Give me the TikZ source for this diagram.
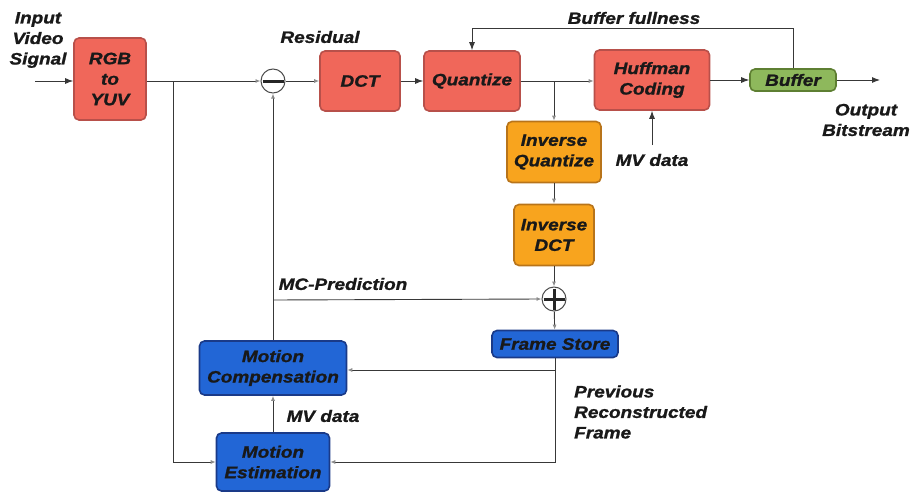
\documentclass[tikz,border=0pt]{standalone}
\usepackage{fontspec}
\setmainfont{Liberation Sans}[FakeStretch=1.15, FakeBold=1.2]
\usetikzlibrary{arrows.meta}
\definecolor{redfill}{HTML}{F0675A}
\definecolor{redline}{HTML}{B8504A}
\definecolor{orfill}{HTML}{F8A41E}
\definecolor{orline}{HTML}{B8741A}
\definecolor{bluefill}{HTML}{2266D6}
\definecolor{blueline}{HTML}{1A3A88}
\definecolor{grfill}{HTML}{8EB85C}
\definecolor{grline}{HTML}{5E7F32}
\definecolor{wire}{HTML}{383838}
\tikzset{
  lbl/.style={font=\fontsize{16.5}{20.5}\selectfont\bfseries\itshape, text=black!90, align=center, inner sep=0pt},
  blk/.style={lbl, draw, line width=1.6pt, rounded corners=5pt, inner sep=0pt},
  redblk/.style={blk, fill=redfill, draw=redline},
  orblk/.style={blk, fill=orfill, draw=orline},
  blueblk/.style={blk, fill=bluefill, draw=blueline},
  grblk/.style={blk, fill=grfill, draw=grline},
  wireline/.style={draw=wire, line width=0.9pt},
  strong/.style={wireline, -{Latex[length=8pt,width=6pt]}},
  faint/.style={wireline, -{Latex[length=5pt,width=4pt,color=black!45]}},
  junction/.style={circle, draw=black!70, line width=1pt, minimum size=24pt, inner sep=0pt, fill=white},
}
\begin{document}
\begin{tikzpicture}[x=1pt,y=-1pt]
\useasboundingbox (0,0) rectangle (912,495);

% processing blocks
\node[redblk, minimum width=72pt, minimum height=82pt] (rgb) at (110,79) {RGB\\to\\YUV};
\node[redblk, minimum width=80pt, minimum height=60pt] (dct) at (360,81) {DCT};
\node[redblk, minimum width=96pt, minimum height=60pt] (quant) at (472,81) {Quantize};
\node[redblk, minimum width=115pt, minimum height=60pt] (huff) at (652,80) {Huffman\\Coding};
\node[grblk, minimum width=86pt, minimum height=22pt] (buf) at (793,80) {Buffer};
\node[orblk, minimum width=94pt, minimum height=61pt] (iq) at (554,152) {Inverse\\Quantize};
\node[orblk, minimum width=80pt, minimum height=61pt] (idct) at (554,235) {Inverse\\DCT};
\node[blueblk, minimum width=126pt, minimum height=27pt] (fs) at (555,344) {Frame Store};
\node[blueblk, minimum width=147pt, minimum height=54pt] (mc) at (273,368) {Motion\\Compensation};
\node[blueblk, minimum width=113pt, minimum height=58pt] (me) at (273,462) {Motion\\Estimation};

% summing junctions
\node[junction] (sub) at (273,81) {};
\draw[line width=3pt, black!85] ([xshift=2pt]sub.west) -- ([xshift=-2pt]sub.east);
\node[junction] (add) at (554,299) {};
\draw[line width=3pt, black!85] ([xshift=2pt]add.west) -- ([xshift=-2pt]add.east);
\draw[line width=3pt, black!85] ([yshift=-2pt]add.north) -- ([yshift=2pt]add.south);

% text labels
\node[lbl] (inlbl) at (38,40) {Input\\Video\\Signal};
\node[lbl] (reslbl) at (320,37) {Residual};
\node[lbl] (fulllbl) at (634,18) {Buffer fullness};
\node[lbl] (outlbl) at (866,120) {Output\\Bitstream};
\node[lbl] (mvlbl) at (652,160) {MV data};
\node[lbl] (mclbl) at (343,284) {MC-Prediction};
\node[lbl] (mvlbl2) at (323,416) {MV data};
\node[lbl, align=left, anchor=west] (prevlbl) at (574,412) {Previous\\Reconstructed\\Frame};

% free ends and branch points
\coordinate (inpt) at (35,81);
\coordinate (outpt) at (880,80);
\coordinate (mvin) at (652,145);
\coordinate (brA) at (173,81);
\coordinate (brB) at (554,81);
\coordinate (brC) at (273,300);
\coordinate (top) at (793,28);

% forward path
\draw[strong] (inpt) -- (rgb.west |- inpt);
\draw[faint] (rgb.east |- brA) -- (sub.west);
\draw[faint] (sub.east) -- (dct.west);
\draw[strong] (dct) -- (quant);
\draw[faint] (quant.east) -- (huff.west |- quant.east);
\draw[strong] (huff) -- (buf);
\draw[strong] (buf.east) -- (outpt);
\draw[strong] (buf.north) -- (top) -| (quant.north);
\draw[strong] (mvin) -- (huff.south);

% reconstruction loop
\draw[faint] (brB) -- (iq.north);
\draw[faint] (iq) -- (idct);
\draw[faint] (idct) -- (add);
\draw[faint] (add) -- (fs);
\draw[faint] (fs.south) |- (me.east);
\draw[faint] (fs.south |- 0,370) -- (mc.east |- 0,370);
\draw[faint] (brA) |- (me.west);
\draw[faint] (me) -- (mc);
\draw[faint] (mc.north) -- (sub.south);
\draw[faint] (brC) -- (add.west);
\end{tikzpicture}
\end{document}
